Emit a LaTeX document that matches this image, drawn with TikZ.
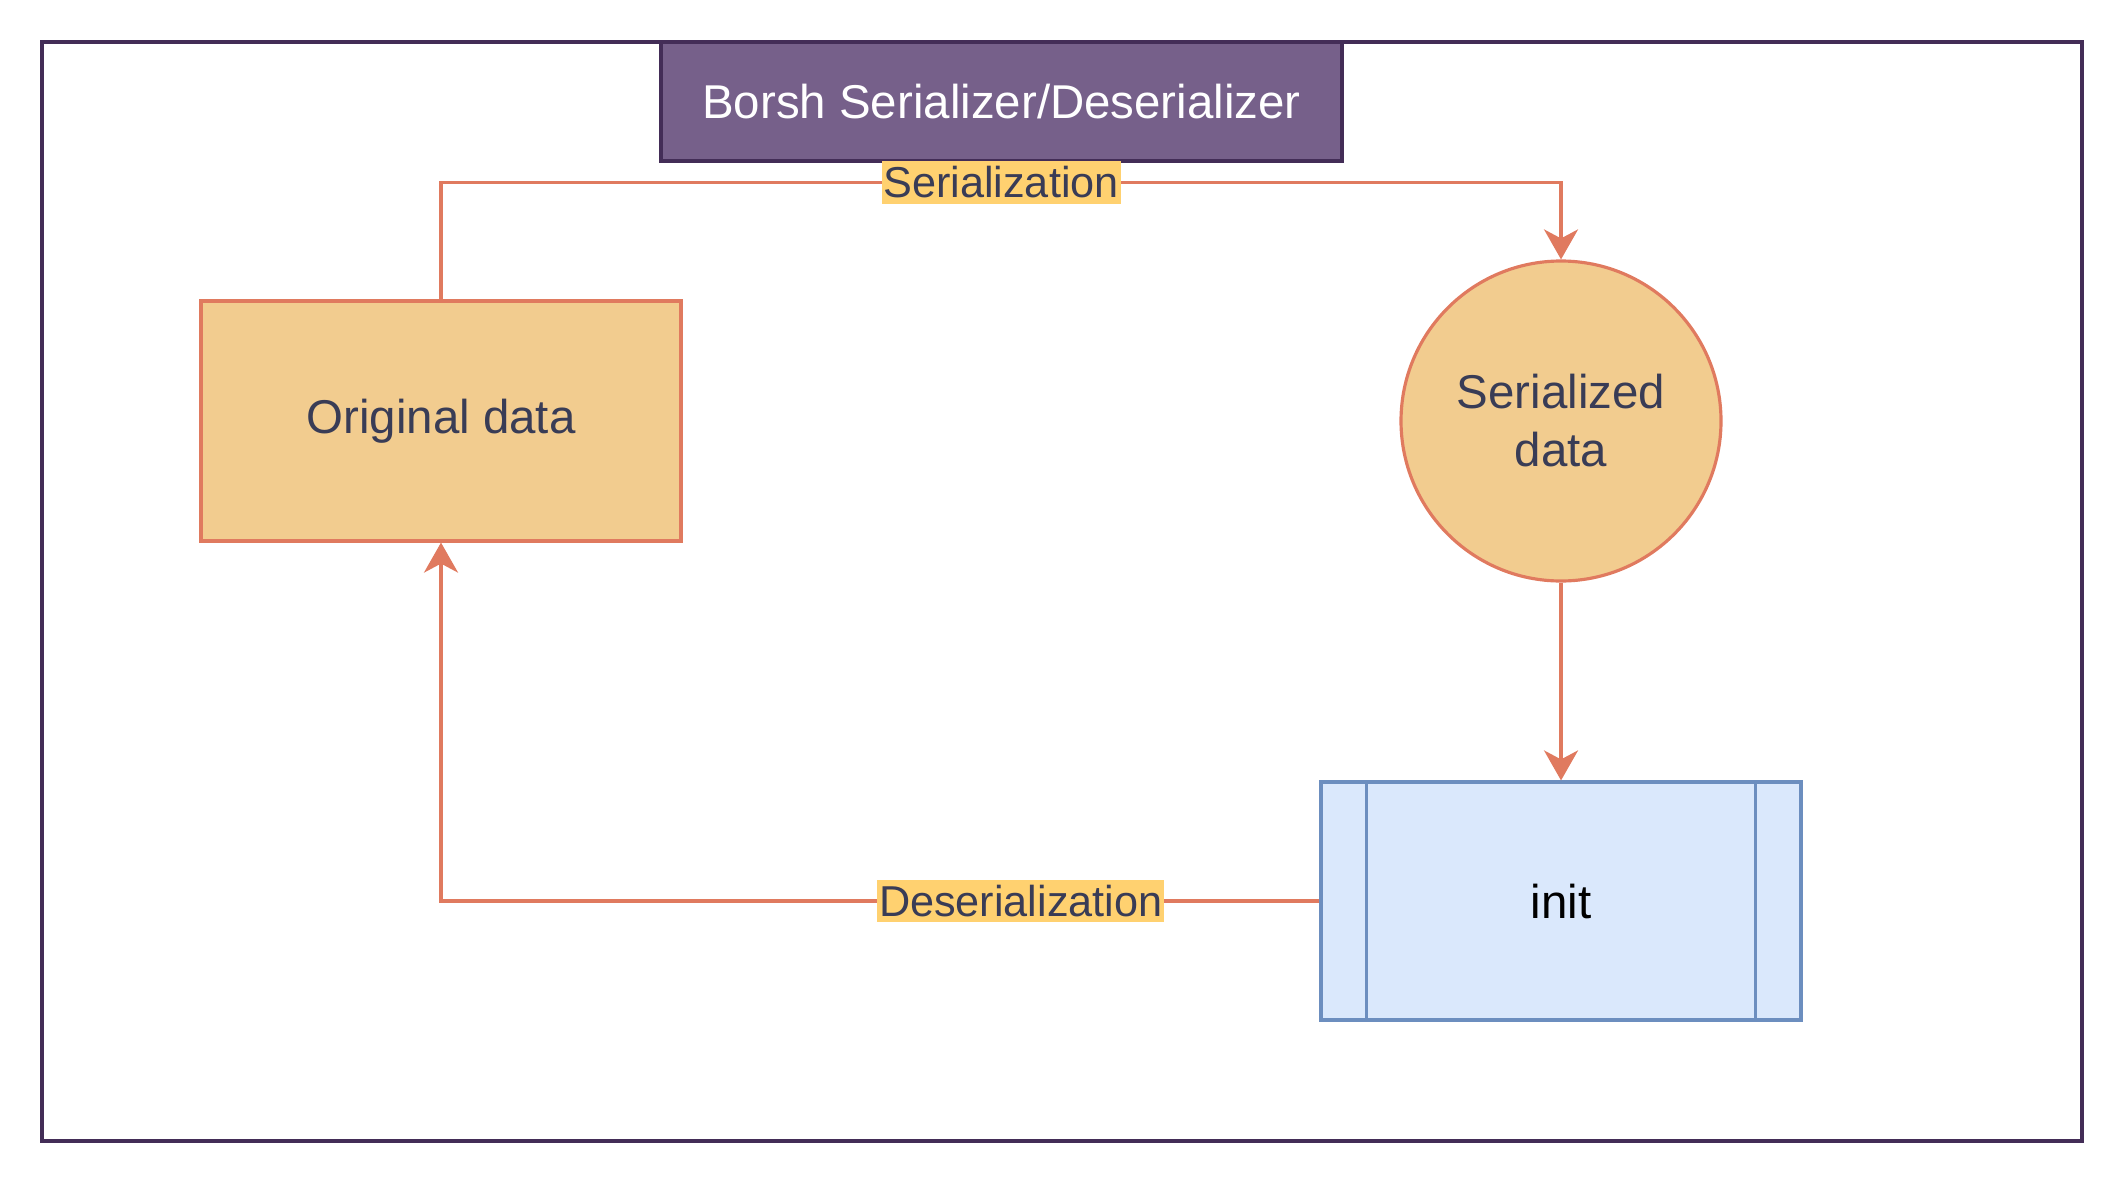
\documentclass[tikz,border=0pt]{standalone}
\usepackage{fontspec}
\setmainfont{Liberation Sans}
\definecolor{datafill}{RGB}{242, 204, 143}
\definecolor{dataline}{RGB}{224, 122, 95}
\definecolor{titlefill}{RGB}{118, 96, 138}
\definecolor{titleline}{RGB}{67, 45, 87}
\definecolor{initfill}{RGB}{218, 232, 252}
\definecolor{initline}{RGB}{108, 142, 191}
\definecolor{darktext}{RGB}{57, 60, 86}
\definecolor{lblfill}{RGB}{255, 209, 112}
\usetikzlibrary{arrows.meta, positioning, calc}

\begin{document}
\begin{tikzpicture}[
    databox/.style={draw=dataline, fill=datafill, line width=0.9pt, text=darktext, font=\fontsize{13.5}{16.5}\selectfont},
    flow/.style={draw=dataline, line width=0.9pt, -{Stealth[length=0.3cm, width=0.34cm, inset=0.09cm]}},
    lbl/.style={fill=lblfill, text=darktext, inner xsep=0.5pt, inner ysep=1.5pt, font=\fontsize{12.3}{14}\selectfont}
  ]
  \useasboundingbox (0,0) rectangle (21.28,11.88);

  % Outer frame
  \draw[titleline, line width=1pt] (0.42,0.47) rectangle (20.82,11.46);

  % Title
  \node[draw=titleline, fill=titlefill, line width=1pt, text=white, minimum width=6.81cm, minimum height=1.19cm, font=\fontsize{13.5}{16.5}\selectfont] (title) at (10.015,10.865) {Borsh Serializer/Deserializer};

  % Data nodes
  \node[databox, minimum width=4.8cm, minimum height=2.4cm] (orig) at (4.41,7.67) {Original data};
  \node[databox, circle, minimum size=3.2cm, align=center, inner sep=0pt] (ser) at (15.61,7.67) {Serialized\\data};

  % init process
  \node[draw=initline, fill=initfill, line width=0.9pt, minimum width=4.8cm, minimum height=2.38cm, font=\fontsize{13.5}{16.5}\selectfont] (init) at (15.61,2.87) {init};
  \draw[initline, line width=0.9pt] ([xshift=0.47cm]init.north west) -- ([xshift=0.47cm]init.south west);
  \draw[initline, line width=0.9pt] ([xshift=-0.47cm]init.north east) -- ([xshift=-0.47cm]init.south east);

  % Connectors
  \draw[flow] (orig.north) -- ++(0,1.17) -| node[lbl, pos=0.25] {Serialization} (ser.north);
  \draw[flow] (ser.south) -- (init.north);
  \draw[flow] (init.west) -| node[lbl, pos=0.17] {Deserialization} (orig.south);
\end{tikzpicture}
\end{document}
